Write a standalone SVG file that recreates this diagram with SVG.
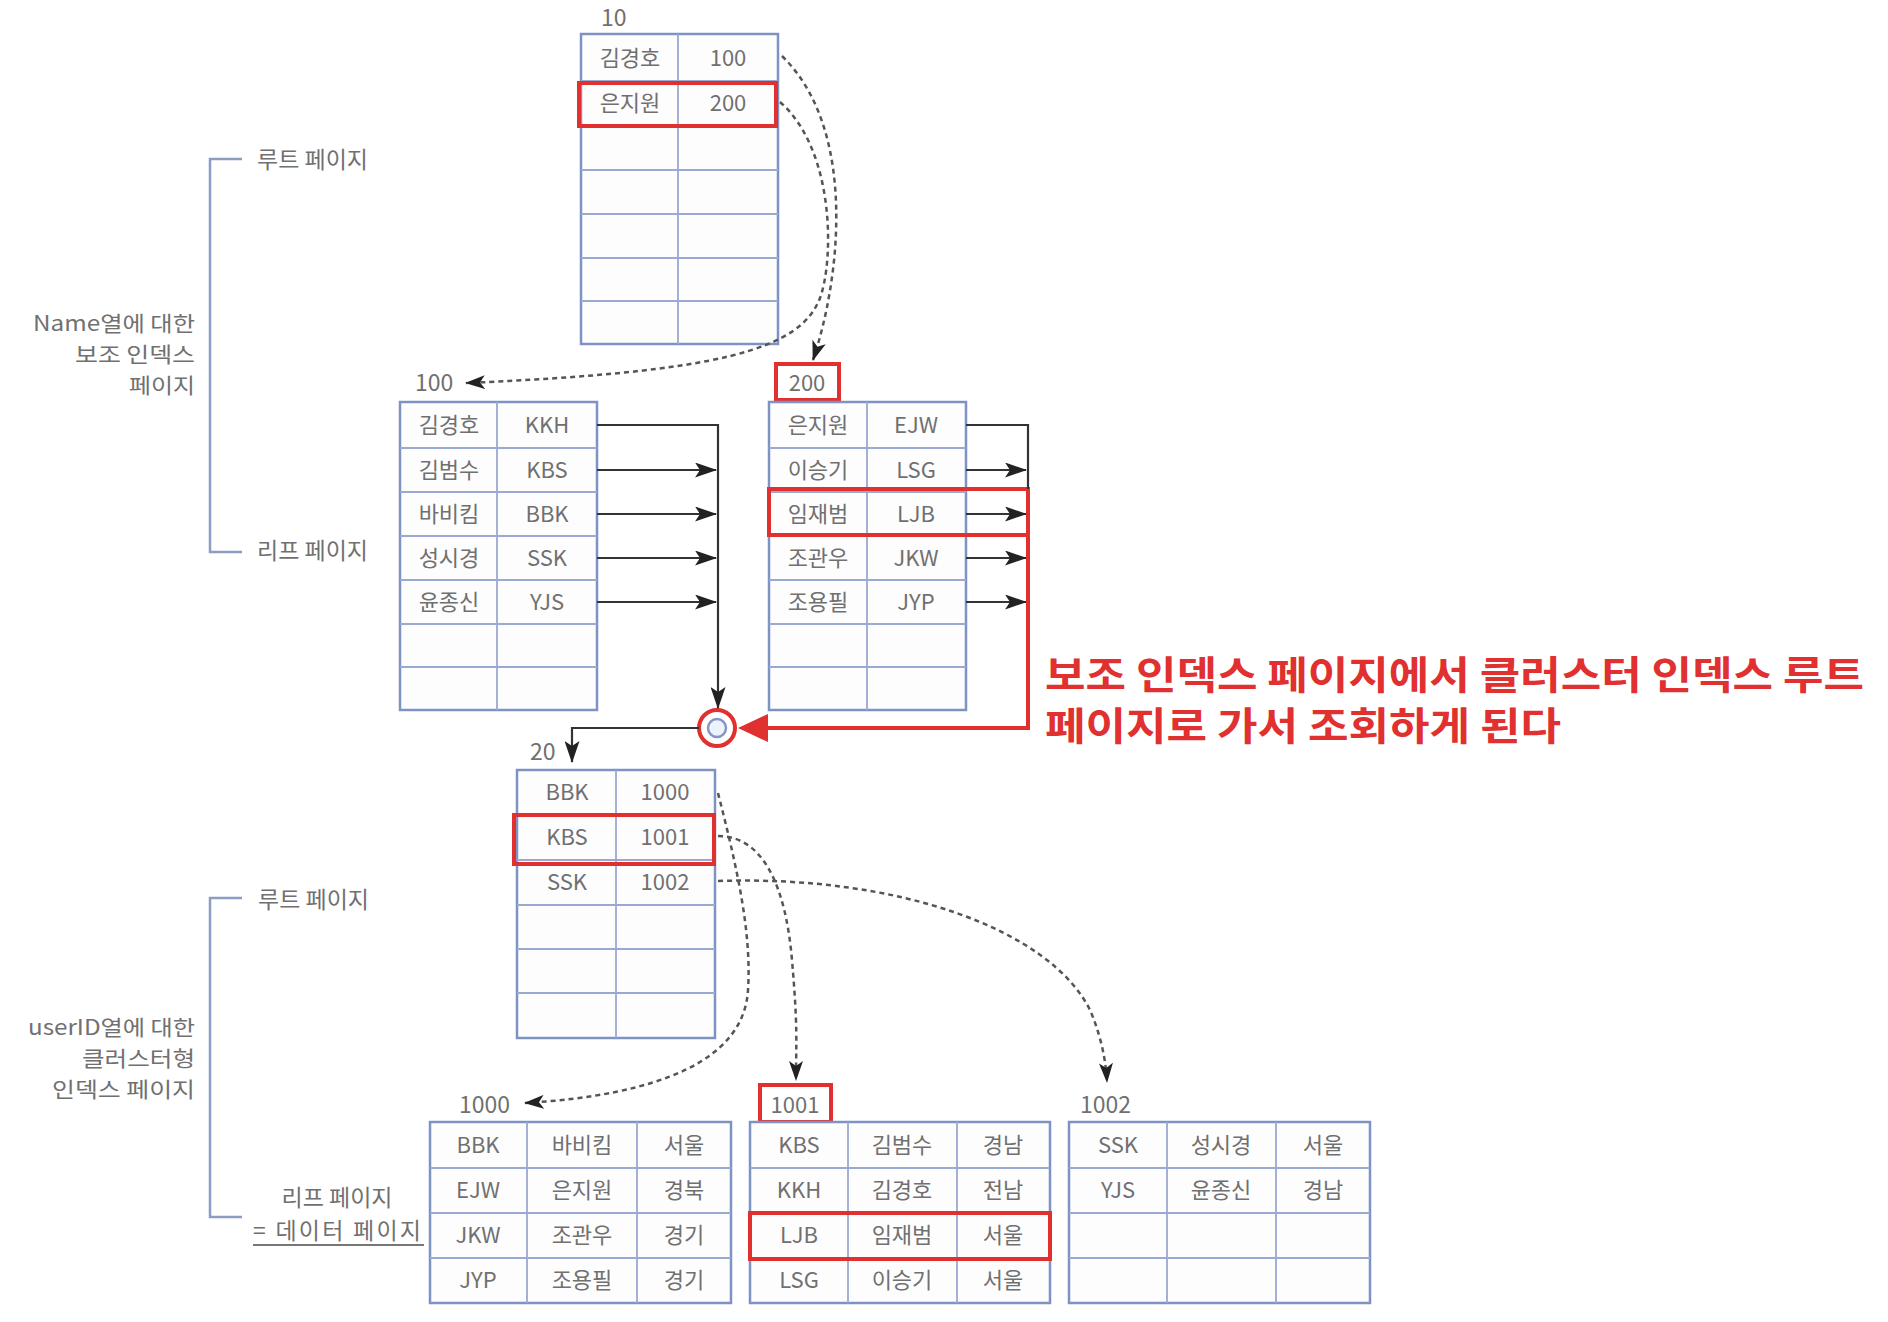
<svg xmlns="http://www.w3.org/2000/svg" width="1888" height="1322" viewBox="0 0 1888 1322">
<style>
.bg{fill:#ffffff}
.tb{fill:#fdfdfe;stroke:#7f92c4;stroke-width:2.5}
.ln{stroke:#9aa9d2;stroke-width:1.8;fill:none}
.t{font-family:"Noto Sans CJK KR","Liberation Sans",sans-serif;font-size:22px;fill:#707070;text-anchor:middle}
.lbl{font-family:"Noto Sans CJK KR","Liberation Sans",sans-serif;font-size:23px;fill:#707070}
.lbm{font-family:"Noto Sans CJK KR","Liberation Sans",sans-serif;font-size:23px;fill:#707070;text-anchor:middle}
.side{font-family:"Noto Sans CJK KR","Liberation Sans",sans-serif;font-size:21px;fill:#707070;text-anchor:end}
.red{fill:none;stroke:#e0302f;stroke-width:4}
.brk{fill:none;stroke:#8c9cc2;stroke-width:2.5}
.dash{fill:none;stroke:#555555;stroke-width:2.5;stroke-dasharray:5 4}
.sol{fill:none;stroke:#333333;stroke-width:2.2}
.note{font-family:"Noto Sans CJK KR",sans-serif;font-size:39px;font-weight:bold;fill:#e0302f}
</style>
<defs>
<marker id="ah" viewBox="0 0 20 14" refX="19" refY="7" markerWidth="20" markerHeight="14" orient="auto" markerUnits="userSpaceOnUse">
<path d="M0,0 L20,7 L0,14 L5,7 z" fill="#222222"/>
</marker>
<marker id="ahs" viewBox="0 0 22 15" refX="21" refY="7.5" markerWidth="22" markerHeight="15" orient="auto" markerUnits="userSpaceOnUse">
<path d="M0,0 L22,7.5 L0,15 L5,7.5 z" fill="#222222"/>
</marker>
</defs>
<rect class="bg" x="0" y="0" width="1888" height="1322"/>

<!-- side brackets and labels -->
<g id="bracket-secondary">
<path class="brk" d="M242,159 L210,159 L210,552 L242,552"/>
<text class="lbl" x="257" y="168">루트 페이지</text>
<text class="lbl" x="257" y="559">리프 페이지</text>
<text class="side" x="195" y="331" textLength="162" lengthAdjust="spacingAndGlyphs">Name열에 대한</text>
<text class="side" x="195" y="362" textLength="120" lengthAdjust="spacingAndGlyphs">보조 인덱스</text>
<text class="side" x="195" y="393" textLength="66" lengthAdjust="spacingAndGlyphs">페이지</text>
</g>
<g id="bracket-clustered">
<path class="brk" d="M242,898 L210,898 L210,1217 L242,1217"/>
<text class="lbl" x="258" y="908">루트 페이지</text>
<text class="side" x="195" y="1035" textLength="167" lengthAdjust="spacingAndGlyphs">userID열에 대한</text>
<text class="side" x="195" y="1066" textLength="113" lengthAdjust="spacingAndGlyphs">클러스터형</text>
<text class="side" x="195" y="1097" textLength="143" lengthAdjust="spacingAndGlyphs">인덱스 페이지</text>
<text class="lbm" x="337" y="1206">리프 페이지</text>
<text class="lbl" x="253" y="1239" textLength="168">= 데이터 페이지</text>
<line x1="253" y1="1245" x2="424" y2="1245" stroke="#777777" stroke-width="2"/>
</g>

<!-- root page 10 -->
<g id="page-10">
<text class="lbl" x="601" y="26">10</text>
<rect class="tb" x="581" y="34" width="197" height="310"/>
<path class="ln" d="M581,81H778M581,126H778M581,170H778M581,214H778M581,258H778M581,301H778M678,34V344"/>
<text class="t" x="630" y="66">김경호</text><text class="t" x="728" y="66">100</text>
<text class="t" x="630" y="111">은지원</text><text class="t" x="728" y="111">200</text>
<rect class="red" x="579" y="83" width="197" height="43"/>
</g>

<!-- leaf page 100 -->
<g id="page-100">
<text class="lbl" x="415" y="391">100</text>
<rect class="tb" x="400" y="402" width="197" height="308"/>
<path class="ln" d="M400,448H597M400,492H597M400,536H597M400,580H597M400,624H597M400,667H597M497,402V710"/>
<text class="t" x="449" y="433">김경호</text><text class="t" x="547" y="433">KKH</text>
<text class="t" x="449" y="478">김범수</text><text class="t" x="547" y="478">KBS</text>
<text class="t" x="449" y="522">바비킴</text><text class="t" x="547" y="522">BBK</text>
<text class="t" x="449" y="566">성시경</text><text class="t" x="547" y="566">SSK</text>
<text class="t" x="449" y="610">윤종신</text><text class="t" x="547" y="610">YJS</text>
</g>

<!-- leaf page 200 -->
<g id="page-200">
<rect class="red" x="776" y="364" width="63" height="36"/>
<text class="t" x="807" y="391">200</text>
<rect class="tb" x="769" y="402" width="197" height="308"/>
<path class="ln" d="M769,448H966M769,492H966M769,536H966M769,580H966M769,624H966M769,667H966M867,402V710"/>
<text class="t" x="818" y="433">은지원</text><text class="t" x="916" y="433">EJW</text>
<text class="t" x="818" y="478">이승기</text><text class="t" x="916" y="478">LSG</text>
<text class="t" x="818" y="522">임재범</text><text class="t" x="916" y="522">LJB</text>
<text class="t" x="818" y="566">조관우</text><text class="t" x="916" y="566">JKW</text>
<text class="t" x="818" y="610">조용필</text><text class="t" x="916" y="610">JYP</text>
<rect class="red" x="769" y="489" width="259" height="46"/>
</g>

<!-- clustered root page 20 -->
<g id="page-20">
<text class="lbl" x="530" y="760">20</text>
<rect class="tb" x="517" y="770" width="198" height="268"/>
<path class="ln" d="M517,815H715M517,860H715M517,905H715M517,949H715M517,993H715M616,770V1038"/>
<text class="t" x="567" y="800">BBK</text><text class="t" x="665" y="800">1000</text>
<text class="t" x="567" y="845">KBS</text><text class="t" x="665" y="845">1001</text>
<text class="t" x="567" y="890">SSK</text><text class="t" x="665" y="890">1002</text>
<rect class="red" x="514" y="815" width="200" height="49"/>
</g>

<!-- data page 1000 -->
<g id="page-1000">
<text class="lbl" x="459" y="1113">1000</text>
<rect class="tb" x="430" y="1122" width="301" height="181"/>
<path class="ln" d="M430,1168H731M430,1213H731M430,1258H731M527,1122V1303M637,1122V1303"/>
<text class="t" x="478" y="1153">BBK</text><text class="t" x="582" y="1153">바비킴</text><text class="t" x="684" y="1153">서울</text>
<text class="t" x="478" y="1198">EJW</text><text class="t" x="582" y="1198">은지원</text><text class="t" x="684" y="1198">경북</text>
<text class="t" x="478" y="1243">JKW</text><text class="t" x="582" y="1243">조관우</text><text class="t" x="684" y="1243">경기</text>
<text class="t" x="478" y="1288">JYP</text><text class="t" x="582" y="1288">조용필</text><text class="t" x="684" y="1288">경기</text>
</g>

<!-- data page 1001 -->
<g id="page-1001">
<rect class="red" x="760" y="1085" width="71" height="37"/>
<text class="t" x="795" y="1113">1001</text>
<rect class="tb" x="750" y="1122" width="300" height="181"/>
<path class="ln" d="M750,1168H1050M750,1213H1050M750,1258H1050M848,1122V1303M957,1122V1303"/>
<text class="t" x="799" y="1153">KBS</text><text class="t" x="902" y="1153">김범수</text><text class="t" x="1003" y="1153">경남</text>
<text class="t" x="799" y="1198">KKH</text><text class="t" x="902" y="1198">김경호</text><text class="t" x="1003" y="1198">전남</text>
<text class="t" x="799" y="1243">LJB</text><text class="t" x="902" y="1243">임재범</text><text class="t" x="1003" y="1243">서울</text>
<text class="t" x="799" y="1288">LSG</text><text class="t" x="902" y="1288">이승기</text><text class="t" x="1003" y="1288">서울</text>
<rect class="red" x="750" y="1213" width="300" height="46"/>
</g>

<!-- data page 1002 -->
<g id="page-1002">
<text class="lbl" x="1080" y="1113">1002</text>
<rect class="tb" x="1069" y="1122" width="301" height="181"/>
<path class="ln" d="M1069,1168H1370M1069,1213H1370M1069,1258H1370M1167,1122V1303M1276,1122V1303"/>
<text class="t" x="1118" y="1153">SSK</text><text class="t" x="1221" y="1153">성시경</text><text class="t" x="1323" y="1153">서울</text>
<text class="t" x="1118" y="1198">YJS</text><text class="t" x="1221" y="1198">윤종신</text><text class="t" x="1323" y="1198">경남</text>
</g>

<!-- junction circle -->
<g id="junction">
<circle cx="717" cy="728" r="18" fill="#ffffff" stroke="#e0302f" stroke-width="4"/>
<circle cx="717" cy="728" r="9" fill="#eef2fb" stroke="#8596c6" stroke-width="2.5"/>
</g>

<!-- connectors -->
<g id="connectors">
<path class="dash" d="M782,56 C858,130 840,280 813,360" marker-end="url(#ah)"/>
<path class="dash" d="M780,102 C835,150 834,260 820,298 C800,350 720,372 466,383" marker-end="url(#ah)"/>
<path class="sol" d="M597,425 H718 V708" marker-end="url(#ahs)"/>
<path class="sol" d="M597,470 H716" marker-end="url(#ahs)"/>
<path class="sol" d="M597,514 H716" marker-end="url(#ahs)"/>
<path class="sol" d="M597,558 H716" marker-end="url(#ahs)"/>
<path class="sol" d="M597,602 H716" marker-end="url(#ahs)"/>
<path class="sol" d="M966,425 H1028 V489"/>
<path class="sol" d="M966,470 H1026" marker-end="url(#ahs)"/>
<path class="sol" d="M966,514 H1026" marker-end="url(#ahs)"/>
<path class="sol" d="M966,558 H1026" marker-end="url(#ahs)"/>
<path class="sol" d="M966,602 H1026" marker-end="url(#ahs)"/>
<path class="red" d="M1028,535 V728 H766"/>
<polygon points="738,728 768,714 768,742" fill="#e0302f"/>
<path class="sol" d="M699,728 H572 V762" marker-end="url(#ahs)"/>
<path class="dash" d="M718,793 C735,860 752,930 748,990 C744,1060 660,1095 525,1103" marker-end="url(#ah)"/>
<path class="dash" d="M718,836 C765,836 786,890 792,960 S796,1040 796,1080" marker-end="url(#ah)"/>
<path class="dash" d="M718,881 C900,875 1050,930 1090,1010 Q1105,1045 1107,1082" marker-end="url(#ah)"/>
</g>

<!-- note -->
<g id="note">
<text class="note" x="1045" y="689" textLength="819" lengthAdjust="spacingAndGlyphs">보조 인덱스 페이지에서 클러스터 인덱스 루트</text>
<text class="note" x="1045" y="740" textLength="516" lengthAdjust="spacingAndGlyphs">페이지로 가서 조회하게 된다</text>
</g>
</svg>
